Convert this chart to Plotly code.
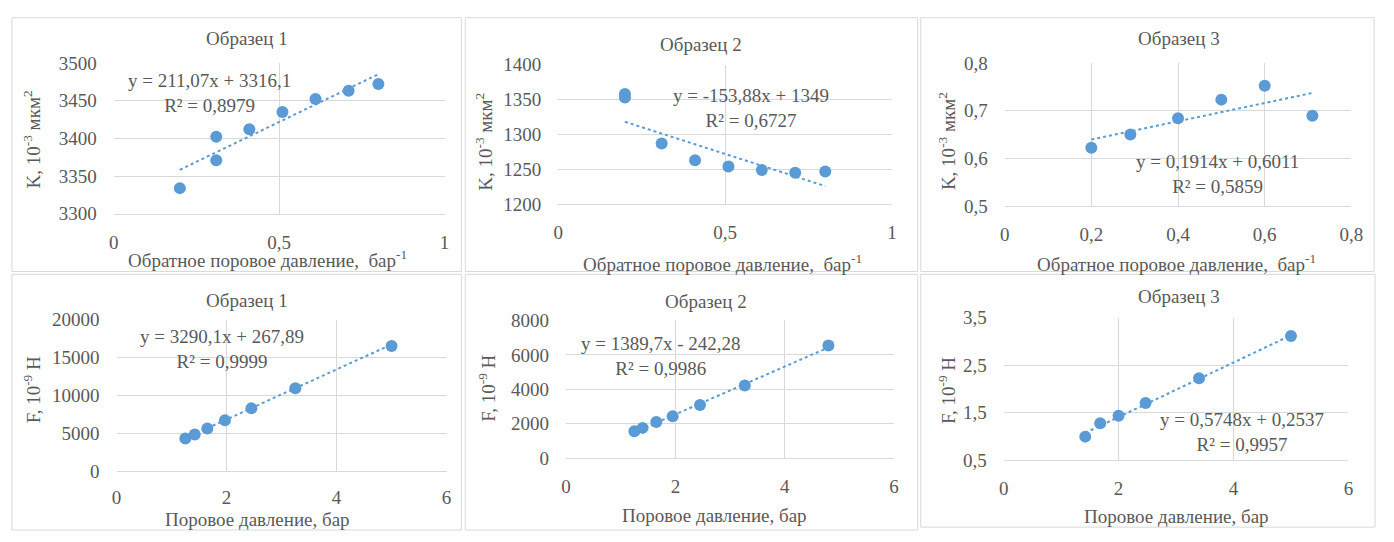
import plotly.graph_objects as go

# ---------------- data ----------------
# top row: permeability K vs inverse pore pressure
k1_x = [0.2, 0.31, 0.31, 0.41, 0.51, 0.61, 0.71, 0.8]
k1_y = [3334, 3402, 3371, 3412, 3435, 3452, 3463, 3472]
k2_x = [0.2, 0.2, 0.31, 0.41, 0.51, 0.61, 0.71, 0.8]
k2_y = [1353, 1358, 1287, 1263, 1254, 1249, 1245, 1247]
k3_x = [0.2, 0.29, 0.4, 0.5, 0.6, 0.71]
k3_y = [0.622, 0.650, 0.684, 0.723, 0.752, 0.689]
# bottom row: force F vs pore pressure
f1_x = [1.25, 1.42, 1.65, 1.97, 2.45, 3.25, 5.0]
f1_y = [4330, 4850, 5650, 6750, 8300, 10950, 16500]
f2_x = [1.25, 1.4, 1.65, 1.95, 2.45, 3.27, 4.8]
f2_y = [1550, 1750, 2090, 2430, 3080, 4210, 6540]
f3_x = [1.42, 1.68, 2.0, 2.47, 3.4, 5.0]
f3_y = [0.99, 1.27, 1.43, 1.70, 2.22, 3.11]

# trendline equations shown on the chart
trend_slope = [211.07, -153.88, 0.1914, 3290.1, 1389.7, 0.5748]
trend_intercept = [3316.1, 1349.0, 0.6011, 267.89, -242.28, 0.2537]
eq_labels = [
    "y = 211,07x + 3316,1<br>R² = 0,8979",
    "y = -153,88x + 1349<br>R² = 0,6727",
    "y = 0,1914x + 0,6011<br>R² = 0,5859",
    "y = 3290,1x + 267,89<br>R² = 0,9999",
    "y = 1389,7x - 242,28<br>R² = 0,9986",
    "y = 0,5748x + 0,2537<br>R² = 0,9957",
]
eq_x = [0.29, 0.577, 0.49, 1.92, 1.735, 4.14]
eq_y = [3460, 1338.6, 0.5675, 16125, 5958, 1.078]

titles = ["Образец 1", "Образец 2", "Образец 3", "Образец 1", "Образец 2", "Образец 3"]
x_title_top = "Обратное поровое давление,  бар<sup>-1</sup>"
x_title_bottom = "Поровое давление, бар"
y_title_top = "K, 10<sup>-3</sup> мкм<sup>2</sup>"
y_title_bottom = "F, 10<sup>-9</sup> Н"

# tick labels
xt_k12_vals = [0, 0.5, 1]
xt_k12_text = ["0", "0,5", "1"]
xt_k3_vals = [0, 0.2, 0.4, 0.6, 0.8]
xt_k3_text = ["0", "0,2", "0,4", "0,6", "0,8"]
xt_f_vals = [0, 2, 4, 6]
xt_f_text = ["0", "2", "4", "6"]
yt_k1_vals = [3300, 3350, 3400, 3450, 3500]
yt_k1_text = ["3300", "3350", "3400", "3450", "3500"]
yt_k2_vals = [1200, 1250, 1300, 1350, 1400]
yt_k2_text = ["1200", "1250", "1300", "1350", "1400"]
yt_k3_vals = [0.5, 0.6, 0.7, 0.8]
yt_k3_text = ["0,5", "0,6", "0,7", "0,8"]
yt_f1_vals = [0, 5000, 10000, 15000, 20000]
yt_f1_text = ["0", "5000", "10000", "15000", "20000"]
yt_f2_vals = [0, 2000, 4000, 6000, 8000]
yt_f2_text = ["0", "2000", "4000", "6000", "8000"]
yt_f3_vals = [0.5, 1.5, 2.5, 3.5]
yt_f3_text = ["0,5", "1,5", "2,5", "3,5"]

# ---------------- styling / layout ----------------
W, H = 1394, 542
FONT = "Liberation Serif"
TXT = "#595959"
BLUE = "#5b9bd5"
GRID = "#d9d9d9"
FS = 19


def px(x):
    return x / W


def py(y):
    return 1 - y / H


xs = [k1_x, k2_x, k3_x, f1_x, f2_x, f3_x]
ys = [k1_y, k2_y, k3_y, f1_y, f2_y, f3_y]
x_ranges = [[0, 1], [0, 1], [0, 0.8], [0, 6], [0, 6], [0, 6]]
y_ranges = [[3300, 3500], [1200, 1400], [0.5, 0.8], [0, 20000], [0, 8000], [0.5, 3.5]]
xticks = [(xt_k12_vals, xt_k12_text), (xt_k12_vals, xt_k12_text), (xt_k3_vals, xt_k3_text),
          (xt_f_vals, xt_f_text), (xt_f_vals, xt_f_text), (xt_f_vals, xt_f_text)]
yticks = [(yt_k1_vals, yt_k1_text), (yt_k2_vals, yt_k2_text), (yt_k3_vals, yt_k3_text),
          (yt_f1_vals, yt_f1_text), (yt_f2_vals, yt_f2_text), (yt_f3_vals, yt_f3_text)]

# plot-area boxes in pixels (left, top, right, bottom)
plot_boxes = [(110, 55, 445, 212), (560, 57, 898, 202), (1012, 55, 1363, 204),
              (113, 322, 447, 480), (568, 323, 900, 466), (1011, 320, 1360, 468)]
# chart-area frames
frames = [(7, 8, 462, 272), (466, 8, 924, 272), (927, 8, 1386, 272),
          (7, 275, 462, 541), (466, 275, 924, 541), (927, 275, 1387, 538)]
title_pos = [(245, 30), (705, 36), (1188, 30), (245, 302), (710, 303), (1188, 298)]
xtitle_pos = [(266, 259), (726, 263), (1186, 263), (256, 530), (718, 526), (1186, 527)]
ytitle_pos = [(27, 135), (485, 137), (953, 136), (27, 395), (488, 394), (953, 396)]
x_standoff = [11, 11, 11, 9, 11, 11]

fig = go.Figure()
layout = dict(
    width=W, height=H,
    margin=dict(l=0, r=0, t=0, b=0),
    paper_bgcolor="white", plot_bgcolor="white",
    showlegend=False,
    font=dict(family=FONT, size=FS, color=TXT),
)
annotations = []
shapes = []

for i in range(6):
    n = "" if i == 0 else str(i + 1)
    xa, ya = "x" + n, "y" + n
    l, t, r, b = plot_boxes[i]
    layout["xaxis" + n] = dict(
        domain=[px(l), px(r)], range=x_ranges[i], anchor=ya,
        tickvals=xticks[i][0], ticktext=xticks[i][1],
        showgrid=True, gridcolor=GRID, gridwidth=1,
        showline=True, linecolor=GRID, linewidth=1,
        zeroline=False, ticks="", ticklabelstandoff=x_standoff[i],
        tickfont=dict(family=FONT, size=FS, color=TXT), fixedrange=True,
    )
    layout["yaxis" + n] = dict(
        domain=[py(b), py(t)], range=y_ranges[i], anchor=xa,
        tickvals=yticks[i][0], ticktext=yticks[i][1],
        showgrid=True, gridcolor=GRID, gridwidth=1,
        showline=False, zeroline=False, ticks="", ticklabelstandoff=16,
        tickfont=dict(family=FONT, size=FS, color=TXT), fixedrange=True,
    )
    # trendline from the displayed equation, over the data's x extent
    x0, x1 = min(xs[i]), max(xs[i])
    fig.add_trace(go.Scatter(
        x=[x0, x1],
        y=[trend_slope[i] * x0 + trend_intercept[i], trend_slope[i] * x1 + trend_intercept[i]],
        mode="lines", line=dict(color=BLUE, width=2, dash="dot"),
        xaxis=xa, yaxis=ya, hoverinfo="skip",
    ))
    fig.add_trace(go.Scatter(
        x=xs[i], y=ys[i], mode="markers",
        marker=dict(color=BLUE, size=12, line=dict(width=0)),
        xaxis=xa, yaxis=ya,
    ))
    annotations.append(dict(
        x=eq_x[i], y=eq_y[i], xref=xa, yref=ya, text=eq_labels[i],
        showarrow=False, align="center", xanchor="center", yanchor="middle",
        font=dict(family=FONT, size=FS, color=TXT),
    ))
    tx, ty = title_pos[i]
    annotations.append(dict(
        x=px(tx), y=py(ty), xref="paper", yref="paper", text=titles[i],
        showarrow=False, xanchor="center", yanchor="middle",
        font=dict(family=FONT, size=FS, color=TXT),
    ))
    ax_, ay_ = xtitle_pos[i]
    annotations.append(dict(
        x=px(ax_), y=py(ay_), xref="paper", yref="paper",
        text=x_title_top if i < 3 else x_title_bottom,
        showarrow=False, xanchor="center", yanchor="middle",
        font=dict(family=FONT, size=FS, color=TXT),
    ))
    yx, yy = ytitle_pos[i]
    annotations.append(dict(
        x=px(yx), y=py(yy), xref="paper", yref="paper",
        text=y_title_top if i < 3 else y_title_bottom,
        showarrow=False, xanchor="center", yanchor="middle", textangle=-90,
        font=dict(family=FONT, size=FS, color=TXT),
    ))
    fl, ft, fr, fb = frames[i]
    shapes.append(dict(
        type="rect", xref="paper", yref="paper",
        x0=px(fl), x1=px(fr), y0=py(fb), y1=py(ft),
        line=dict(color=GRID, width=1), fillcolor="rgba(0,0,0,0)", layer="below",
    ))

layout["annotations"] = annotations
layout["shapes"] = shapes
fig.update_layout(**layout)
fig.write_html("out.html")
